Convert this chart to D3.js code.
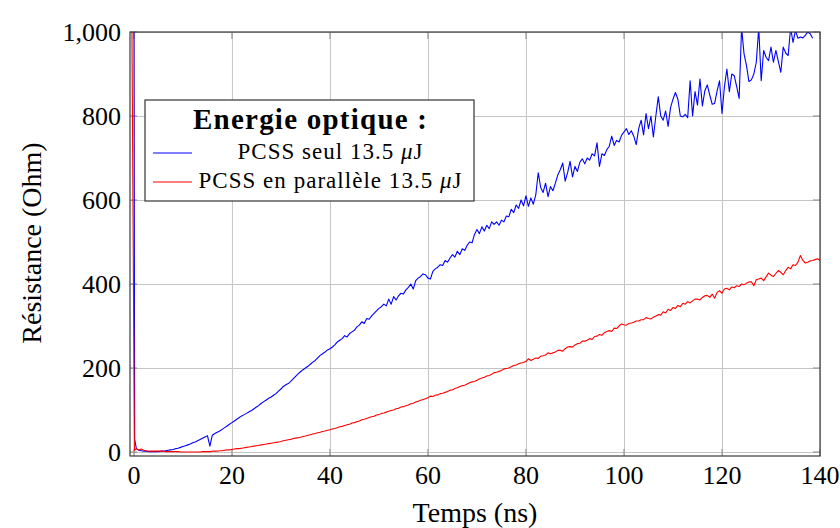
<!DOCTYPE html>
<html>
<head>
<meta charset="utf-8">
<script src="https://cdn.jsdelivr.net/npm/d3@7"></script>
<style>
  html, body { margin: 0; padding: 0; background: #fff; }
  svg text { font-family: "Liberation Serif", "DejaVu Serif", serif; fill: #000; }
</style>
</head>
<body>
<div id="chart"></div>
<script>
// --- data (resistance in Ohm, time in ns) ---
const xTicks = [0, 20, 40, 60, 80, 100, 120, 140];
const yTicks = [0, 200, 400, 600, 800, 1000];

const legendTitle = 'Energie optique :';
const seriesNames = ['PCSS seul 13.5 ', 'PCSS en parallèle 13.5 '];

// first points of the switching edge (irregular times)
const spikeTimesBlue = [0, 0.15];
const spikeValuesBlue = [1100, 30];
const spikeTimesRed = [-0.45, 0.1];
const spikeValuesRed = [1100, 4];

// after the edge, one sample every 0.5 ns starting at 0.5 ns
const sampleStart = 0.5;
const sampleStep = 0.5;

const blueValues = [
  8, 4, 3, 2, 2, 1, 1, 1, 1, 1, 2, 2, 3, 4, 5, 6, 8, 9, 11, 13,
  15, 17, 19, 22, 24, 27, 30, 33, 36, 39, 14, 40, 44, 47, 50, 54, 58, 62, 66, 70,
  74, 78, 82, 86, 89, 92, 96, 99, 103, 107, 111, 116, 120, 124, 128, 131, 135, 139, 145, 150,
  156, 160, 163, 168, 174, 180, 186, 191, 196, 200, 204, 209, 214, 218, 224, 230, 234, 238, 243, 246,
  250, 255, 262, 266, 270, 277, 274, 282, 286, 290, 298, 302, 310, 306, 318, 316, 324, 330, 336, 342,
  346, 352, 348, 364, 352, 370, 362, 372, 378, 376, 386, 392, 400, 388, 408, 414, 418, 424, 422, 414,
  412, 430, 436, 440, 446, 444, 456, 452, 462, 470, 464, 478, 470, 484, 480, 492, 500, 498, 518, 530,
  520, 536, 526, 540, 532, 548, 542, 548, 540, 552, 548, 562, 560, 578, 570, 588, 580, 600, 586, 610,
  585, 605, 590, 612, 665, 630, 618, 640, 608, 632, 622, 640, 660, 672, 688, 645, 665, 692, 655, 680,
  668, 690, 698, 686, 700, 695, 710, 705, 736, 680, 710, 706, 720, 728, 752, 730, 742, 738, 754, 762,
  770, 756, 765, 752, 732, 770, 790, 755, 806, 770, 800, 750, 800, 846, 800, 790, 812, 775, 820, 840,
  856, 840, 800, 798, 804, 796, 884, 800, 858, 826, 888, 824, 860, 874, 850, 828, 830, 860, 884, 806,
  870, 912, 858, 900, 896, 870, 842, 1010, 948, 920, 882, 886, 900, 928, 1010, 884, 956, 940, 932, 964,
  928, 956, 930, 904, 964, 950, 944, 1010, 975, 1004, 985, 988, 986, 992, 1000, 996, 985
];

const redValues = [
  8, 5, 7, 4, 3, 2, 2, 2, 2, 2, 2, 2, 1, 1, 1, 1, 1, 1, 0, 0,
  0, 0, 0, 0, 0, 0, 0, 1, 1, 1, 1, 2, 2, 2, 3, 3, 4, 5, 5, 6,
  7, 8, 8, 9, 10, 11, 12, 13, 14, 15, 16, 17, 18, 19, 20, 21, 22, 23, 24, 25,
  27, 28, 29, 30, 32, 33, 34, 35, 37, 38, 40, 41, 43, 44, 46, 47, 49, 50, 52, 53,
  55, 56, 58, 60, 61, 63, 65, 66, 69, 70, 72, 74, 77, 78, 80, 82, 84, 85, 88, 89,
  92, 93, 95, 97, 99, 100, 103, 104, 107, 108, 110, 112, 115, 116, 119, 121, 123, 125, 127, 129,
  133, 132, 135, 136, 139, 140, 142, 144, 147, 148, 151, 153, 156, 158, 159, 162, 165, 167, 168, 171,
  174, 176, 178, 181, 182, 185, 189, 190, 192, 194, 198, 199, 200, 203, 206, 207, 210, 212, 213, 216,
  222, 218, 221, 224, 223, 228, 229, 231, 236, 234, 236, 238, 242, 242, 240, 246, 250, 251, 250, 255,
  258, 259, 264, 264, 266, 270, 268, 275, 276, 280, 278, 284, 287, 289, 287, 295, 294, 300, 305, 303,
  302, 306, 307, 309, 312, 312, 315, 315, 320, 318, 317, 321, 324, 327, 326, 334, 331, 340, 337, 344,
  342, 349, 346, 354, 352, 358, 355, 360, 364, 364, 362, 368, 372, 373, 368, 376, 366, 380, 384, 378,
  388, 390, 386, 393, 391, 396, 394, 400, 398, 402, 405, 405, 396, 410, 412, 414, 408, 417, 426, 421,
  418, 425, 432, 428, 422, 432, 440, 436, 446, 444, 452, 468, 456, 450, 452, 455, 456, 458, 460, 456
];

// --- chart ---
const width = 840;
const height = 528;
const plot = { left: 130, right: 820, top: 32, bottom: 456 };

const svg = d3.select('#chart')
  .append('svg')
  .attr('width', width)
  .attr('height', height);

const xScale = d3.scaleLinear()
  .domain([-0.8, 140])
  .range([plot.left, plot.right]);

const yScale = d3.scaleLinear()
  .domain([-9.5, 1000])
  .range([plot.bottom, plot.top]);

function buildSeries(spikeT, spikeV, values) {
  const pts = spikeT.map((t, i) => ({ t: t, v: spikeV[i] }));
  values.forEach((v, i) => pts.push({ t: sampleStart + i * sampleStep, v: v }));
  return pts;
}

const blueSeries = buildSeries(spikeTimesBlue, spikeValuesBlue, blueValues);
const redSeries = buildSeries(spikeTimesRed, spikeValuesRed, redValues);

svg.append('defs').append('clipPath')
  .attr('id', 'plot-clip')
  .append('rect')
  .attr('x', plot.left)
  .attr('y', plot.top)
  .attr('width', plot.right - plot.left)
  .attr('height', plot.bottom - plot.top);

// grid
svg.append('g')
  .attr('transform', `translate(0, ${plot.bottom})`)
  .call(d3.axisBottom(xScale).tickValues(xTicks).tickSize(-(plot.bottom - plot.top)).tickFormat(''))
  .call(g => g.select('.domain').remove())
  .call(g => g.selectAll('line').attr('stroke', '#c4c4c4').attr('stroke-width', 1));

svg.append('g')
  .attr('transform', `translate(${plot.left}, 0)`)
  .call(d3.axisLeft(yScale).tickValues(yTicks).tickSize(-(plot.right - plot.left)).tickFormat(''))
  .call(g => g.select('.domain').remove())
  .call(g => g.selectAll('line').attr('stroke', '#c4c4c4').attr('stroke-width', 1));

// small inner tick marks on all four sides
const tickLen = 7;
const tickMarks = svg.append('g').attr('stroke', '#8a8a8a').attr('stroke-width', 1);
xTicks.forEach(t => {
  tickMarks.append('line')
    .attr('x1', xScale(t)).attr('x2', xScale(t))
    .attr('y1', plot.bottom).attr('y2', plot.bottom - tickLen);
  tickMarks.append('line')
    .attr('x1', xScale(t)).attr('x2', xScale(t))
    .attr('y1', plot.top).attr('y2', plot.top + tickLen);
});
yTicks.forEach(v => {
  tickMarks.append('line')
    .attr('x1', plot.left).attr('x2', plot.left + tickLen)
    .attr('y1', yScale(v)).attr('y2', yScale(v));
  tickMarks.append('line')
    .attr('x1', plot.right).attr('x2', plot.right - tickLen)
    .attr('y1', yScale(v)).attr('y2', yScale(v));
});

// curves
const line = d3.line()
  .x(d => xScale(d.t))
  .y(d => yScale(d.v));

const curves = svg.append('g').attr('clip-path', 'url(#plot-clip)');

curves.append('path')
  .datum(blueSeries)
  .attr('d', line)
  .attr('fill', 'none')
  .attr('stroke', '#0000ff')
  .attr('stroke-width', 1.1)
  .attr('stroke-linejoin', 'round');

curves.append('path')
  .datum(redSeries)
  .attr('d', line)
  .attr('fill', 'none')
  .attr('stroke', '#ff0000')
  .attr('stroke-width', 1.1)
  .attr('stroke-linejoin', 'round');

// frame
svg.append('rect')
  .attr('x', plot.left)
  .attr('y', plot.top)
  .attr('width', plot.right - plot.left)
  .attr('height', plot.bottom - plot.top)
  .attr('fill', 'none')
  .attr('stroke', '#3a3a3a')
  .attr('stroke-width', 1.2);

// tick labels
svg.append('g')
  .selectAll('text')
  .data(xTicks)
  .enter()
  .append('text')
  .attr('x', d => xScale(d))
  .attr('y', 484)
  .attr('text-anchor', 'middle')
  .style('font-size', '26px')
  .text(d => d3.format(',')(d));

svg.append('g')
  .selectAll('text')
  .data(yTicks)
  .enter()
  .append('text')
  .attr('x', 121)
  .attr('y', d => yScale(d) + 9)
  .attr('text-anchor', 'end')
  .style('font-size', '26px')
  .text(d => d3.format(',')(d));

// axis titles
svg.append('text')
  .attr('x', 475)
  .attr('y', 522)
  .attr('text-anchor', 'middle')
  .style('font-size', '28px')
  .text('Temps (ns)');

svg.append('text')
  .attr('transform', 'translate(41, 243) rotate(-90)')
  .attr('text-anchor', 'middle')
  .style('font-size', '28px')
  .text('Résistance (Ohm)');

// legend
const legend = svg.append('g');

legend.append('rect')
  .attr('x', 145)
  .attr('y', 100)
  .attr('width', 329)
  .attr('height', 101)
  .attr('fill', '#fff')
  .attr('stroke', '#333')
  .attr('stroke-width', 1.2);

legend.append('text')
  .attr('x', 310)
  .attr('y', 129)
  .attr('text-anchor', 'middle')
  .attr('textLength', 234)
  .attr('lengthAdjust', 'spacing')
  .style('font-size', '29px')
  .style('font-weight', 'bold')
  .text(legendTitle);

const legendColors = ['#0000ff', '#ff0000'];
const legendRows = [153, 182];
const legendWidths = [185, 263];

seriesNames.forEach((name, i) => {
  legend.append('line')
    .attr('x1', 153).attr('x2', 192)
    .attr('y1', legendRows[i]).attr('y2', legendRows[i])
    .attr('stroke', legendColors[i])
    .attr('stroke-width', 1.1);

  const label = legend.append('text')
    .attr('x', 330)
    .attr('y', legendRows[i] + 6)
    .attr('text-anchor', 'middle')
    .attr('textLength', legendWidths[i])
    .attr('lengthAdjust', 'spacing')
    .style('font-size', '23px');
  label.append('tspan').text(name);
  label.append('tspan').style('font-style', 'italic').text('μ');
  label.append('tspan').text('J');
});
</script>
</body>
</html>
